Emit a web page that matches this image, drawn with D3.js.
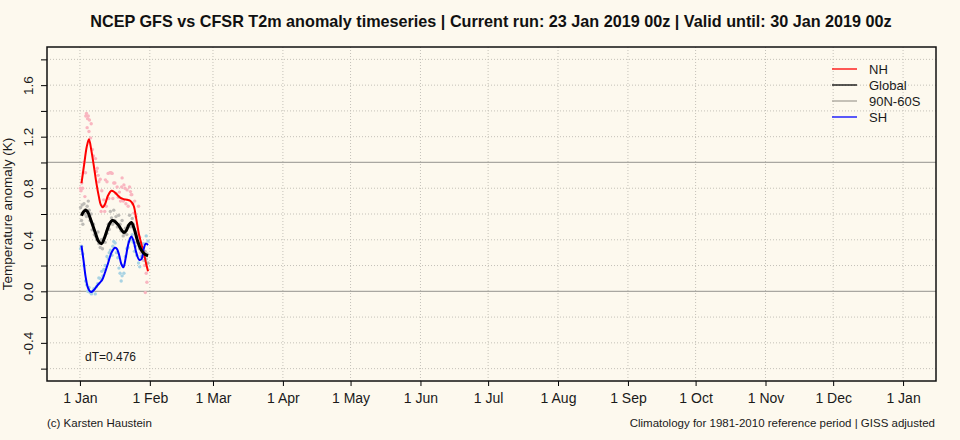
<!DOCTYPE html>
<html>
<head>
<meta charset="utf-8">
<script src="https://cdn.jsdelivr.net/npm/d3@7"></script>
<style>
  body { margin: 0; background: #fdf9ee; }
  text { font-family: 'Liberation Sans', Arial, sans-serif; }
</style>
</head>
<body>
<div id="chart"></div>
<script>
// Day offsets are counted from 1 Jan 2019 00z

// Smoothed curves
let nhLine = [[0.7,0.84],[2,1.0],[3,1.12],[4,1.18],[5,1.1],[6.2,0.97],[7.3,0.84],[8.4,0.735],[9.3,0.67],[10.2,0.653],[11.2,0.68],[12.5,0.745],[14,0.78],[15.3,0.77],[16.5,0.75],[18,0.725],[19.5,0.715],[21,0.71],[22,0.705],[23,0.69],[23.9,0.66],[25,0.56],[26.1,0.45],[27.2,0.37],[28.3,0.30],[29.3,0.22],[30.2,0.155]];
let bandLine = [[0.7,0.60],[1.5,0.625],[2.5,0.64],[3.3,0.63],[4,0.60],[5.5,0.53],[6.9,0.455],[8.2,0.395],[9.6,0.375],[10.8,0.415],[12.1,0.485],[13.3,0.535],[14.3,0.555],[15.6,0.545],[17,0.52],[18.3,0.485],[19.5,0.46],[20.5,0.475],[21.7,0.52],[22.8,0.54],[24,0.495],[25.4,0.405],[26.5,0.35],[27.6,0.315],[29,0.29],[30.2,0.28]];
let globalLine = [[0.7,0.586],[1.5,0.615],[2.5,0.63],[3.3,0.62],[4,0.594],[5.5,0.52],[6.9,0.45],[8.2,0.39],[9.6,0.37],[10.8,0.41],[12.1,0.478],[13.3,0.53],[14.3,0.55],[15.6,0.54],[17,0.516],[18.3,0.48],[19.5,0.457],[20.5,0.47],[21.7,0.515],[22.8,0.534],[24,0.49],[25.4,0.40],[26.5,0.345],[27.6,0.31],[29,0.285],[30.2,0.276]];
let shLine = [[0.7,0.354],[1.6,0.24],[2.5,0.116],[3.5,0.03],[4.4,0.0],[5.1,-0.005],[6.2,0.01],[7.7,0.045],[9,0.07],[9.9,0.09],[11.2,0.15],[12.5,0.22],[14,0.3],[15.5,0.338],[16.4,0.33],[17.4,0.28],[18.4,0.21],[19.3,0.186],[20.3,0.26],[21.5,0.37],[22.8,0.426],[23.8,0.39],[25,0.3],[26.3,0.245],[27.3,0.25],[28.3,0.33],[29.2,0.37],[30.2,0.36]];

// Raw values (dots)
let nhPts = [[0.2,0.80],[0.5,0.78],[0.8,0.84],[1.2,0.80],[1.5,0.92],[1.8,1.0],[2.2,0.735],[2.5,0.92],[2.6,1.36],[2.9,1.38],[3.2,1.27],[3.4,1.34],[3.7,1.36],[4.0,1.24],[4.2,1.33],[4.7,1.19],[5.0,1.30],[5.5,1.10],[6.0,1.05],[6.9,1.03],[7.3,0.93],[7.7,0.955],[8.1,0.90],[8.4,0.85],[9.0,0.87],[9.4,0.62],[9.7,0.78],[10.2,0.66],[10.6,0.71],[11.0,0.62],[11.3,0.865],[11.7,0.66],[12.0,0.85],[12.5,0.915],[12.8,0.72],[13.3,0.92],[13.8,0.92],[14.3,0.915],[14.6,0.72],[15.0,0.84],[15.5,0.84],[16.0,0.76],[16.5,0.81],[17.0,0.73],[17.5,0.77],[18.0,0.70],[18.5,0.81],[18.7,0.88],[19.2,0.70],[19.5,0.826],[20.0,0.80],[20.4,0.68],[20.9,0.787],[21.4,0.66],[22.0,0.81],[22.4,0.774],[22.7,0.75],[23.0,0.75],[23.4,0.68],[23.9,0.607],[24.3,0.70],[24.8,0.58],[25.4,0.45],[26.0,0.66],[26.5,0.42],[27.0,0.30],[27.6,0.27],[28.2,0.24],[28.7,0.20],[29.0,-0.01],[29.4,0.14],[29.7,0.07]];
let globalPts = [[0.3,0.65],[0.7,0.55],[1.0,0.67],[1.3,0.52],[1.8,0.68],[2.2,0.60],[2.9,0.58],[3.2,0.66],[3.7,0.70],[4.1,0.63],[4.5,0.55],[5.0,0.60],[5.4,0.477],[6.0,0.52],[6.4,0.44],[6.9,0.43],[7.5,0.40],[8.0,0.46],[8.4,0.37],[9.0,0.34],[9.5,0.40],[10.0,0.33],[10.6,0.41],[11.2,0.38],[12.0,0.45],[12.6,0.52],[13.0,0.48],[13.5,0.62],[14.0,0.57],[14.5,0.52],[15.0,0.63],[15.5,0.55],[16.0,0.58],[16.6,0.50],[17.2,0.59],[17.8,0.52],[18.2,0.47],[18.7,0.55],[19.2,0.43],[19.7,0.45],[20.2,0.49],[20.8,0.44],[21.4,0.51],[22.0,0.59],[22.5,0.50],[23.2,0.566],[23.7,0.52],[24.1,0.48],[24.6,0.46],[25.2,0.38],[25.8,0.43],[26.4,0.33],[27.0,0.376],[27.6,0.34],[28.0,0.30],[28.3,0.27],[28.9,0.31],[29.4,0.25],[29.8,0.29],[30.2,0.22]];
let shPts = [[0.3,0.33],[0.7,0.35],[1.3,0.29],[1.8,0.20],[2.5,0.08],[3.0,0.05],[3.5,0.0],[4.0,0.03],[4.5,-0.01],[5.1,-0.02],[5.6,0.0],[6.2,0.02],[6.8,-0.02],[7.3,0.035],[7.9,0.06],[8.4,0.104],[9.0,0.10],[9.7,0.155],[10.2,0.12],[10.6,0.17],[11.2,0.20],[12.0,0.27],[12.6,0.25],[13.0,0.30],[13.5,0.32],[14.2,0.28],[14.6,0.35],[15.0,0.387],[15.6,0.375],[16.2,0.30],[16.8,0.26],[17.3,0.18],[17.8,0.14],[18.3,0.08],[18.7,0.12],[19.1,0.20],[19.5,0.14],[20.2,0.27],[20.8,0.33],[21.3,0.34],[21.7,0.387],[22.3,0.41],[22.8,0.40],[23.2,0.44],[23.7,0.38],[24.2,0.31],[24.6,0.35],[25.2,0.28],[26.0,0.22],[26.5,0.19],[27.2,0.27],[27.7,0.30],[28.3,0.37],[28.8,0.24],[29.4,0.43],[30.2,0.39]];

// Axis ticks and labels
let yTicks = [-0.6,-0.4,-0.2,0,0.2,0.4,0.6,0.8,1.0,1.2,1.4,1.6,1.8];
let yLabels = [-0.4,0,0.4,0.8,1.2,1.6];
let refLines = [0, 1.0];
let monthNames = ['Jan','Feb','Mar','Apr','May','Jun','Jul','Aug','Sep','Oct','Nov','Dec','Jan'];
let legendNames = ['NH','Global','90N-60S','SH'];
let legendColors = ['#ff0000','#000000','#a8a39a','#0000ff'];

let titleText = 'NCEP GFS vs CFSR T2m anomaly timeseries | Current run: 23 Jan 2019 00z | Valid until: 30 Jan 2019 00z';
let dT = 'dT=0.476';

let svgWidth = 960;
let svgHeight = 440;
let margin = { top: 47, right: 24, bottom: 59, left: 47 };
let width = svgWidth - margin.left - margin.right;
let height = svgHeight - margin.top - margin.bottom;

let svg = d3.select('#chart')
  .append('svg')
  .attr('width', svgWidth)
  .attr('height', svgHeight)
  .style('background', '#fdf9ee');

let chartGroup = svg.append('g')
  .attr('transform', `translate(${margin.left}, ${margin.top})`);

// Time scale, 1 Jan 2019 .. 1 Jan 2020 plus 4% padding each side
let t0 = Date.UTC(2019, 0, 1);
let dayMs = 864e5;
let toDate = d => new Date(t0 + d * dayMs);
let xScale = d3.scaleUtc()
  .domain([toDate(-14.6), toDate(365 + 14.6)])
  .range([0, width]);
let yScale = d3.scaleLinear()
  .domain([-0.696, 1.896])
  .range([height, 0]);

let monthTicks = d3.utcMonth.range(new Date(t0), new Date(Date.UTC(2020, 0, 2)));

// Grid
chartGroup.selectAll('.hgrid')
  .data(yTicks.filter(v => refLines.indexOf(v) < 0))
  .enter()
  .append('line')
  .attr('x1', 0).attr('x2', width)
  .attr('y1', d => yScale(d)).attr('y2', d => yScale(d))
  .attr('stroke', '#c4c1b8')
  .attr('stroke-width', 1)
  .attr('stroke-dasharray', '1,2');

chartGroup.selectAll('.vgrid')
  .data(monthTicks)
  .enter()
  .append('line')
  .attr('x1', d => xScale(d)).attr('x2', d => xScale(d))
  .attr('y1', 0).attr('y2', height)
  .attr('stroke', '#c4c1b8')
  .attr('stroke-width', 1)
  .attr('stroke-dasharray', '1,2');

chartGroup.selectAll('.ref')
  .data(refLines)
  .enter()
  .append('line')
  .attr('x1', 0).attr('x2', width)
  .attr('y1', d => yScale(d)).attr('y2', d => yScale(d))
  .attr('stroke', '#a9a7a1')
  .attr('stroke-width', 1.2);

// Dots
let dotSets = [[globalPts, '#bdbbb6'], [nhPts, '#f9b6c0'], [shPts, '#a9d3e3']];
dotSets.forEach(s => {
  chartGroup.append('g')
    .selectAll('circle')
    .data(s[0])
    .enter()
    .append('circle')
    .attr('cx', d => xScale(toDate(d[0])))
    .attr('cy', d => yScale(d[1]))
    .attr('r', 1.7)
    .attr('fill', s[1]);
});

// Smoothed lines
let line = d3.line()
  .x(d => xScale(toDate(d[0])))
  .y(d => yScale(d[1]))
  .curve(d3.curveCatmullRom);

let lineSets = [[nhLine, '#ff0000', 2], [bandLine, '#a8a39a', 1.5], [shLine, '#0000ff', 2], [globalLine, '#000000', 3]];
lineSets.forEach(s => {
  chartGroup.append('path')
    .datum(s[0])
    .attr('d', line)
    .attr('fill', 'none')
    .attr('stroke', s[1])
    .attr('stroke-width', s[2])
    .attr('stroke-linejoin', 'round');
});

// Axes
let yAxis = d3.axisLeft(yScale)
  .tickValues(yTicks)
  .tickSize(6)
  .tickFormat(v => yLabels.some(l => Math.abs(l - v) < 1e-9) ? v.toFixed(1) : '');
let yG = chartGroup.append('g').call(yAxis);
yG.select('.domain').remove();
yG.selectAll('text')
  .attr('font-size', '13.5px')
  .attr('fill', '#1a1a1a')
  .attr('text-anchor', 'middle')
  .attr('dy', '0')
  .attr('x', 0)
  .attr('y', 0)
  .attr('transform', 'rotate(-90) translate(0, -14)');

let xAxis = d3.axisBottom(xScale)
  .tickValues(monthTicks)
  .tickSize(5)
  .tickPadding(7)
  .tickFormat((d, i) => '1 ' + monthNames[i]);
let xG = chartGroup.append('g')
  .attr('transform', `translate(0, ${height})`)
  .call(xAxis);
xG.select('.domain').remove();
xG.selectAll('text')
  .attr('font-size', '14px')
  .attr('fill', '#1a1a1a');

// Box
chartGroup.append('rect')
  .attr('x', 0).attr('y', 0)
  .attr('width', width).attr('height', height)
  .attr('fill', 'none')
  .attr('stroke', '#111')
  .attr('stroke-width', 1.5);

// Legend
let legend = chartGroup.append('g')
  .attr('transform', `translate(${785}, ${22})`);
legendNames.forEach((name, i) => {
  legend.append('line')
    .attr('x1', 0).attr('x2', 25)
    .attr('y1', i * 16).attr('y2', i * 16)
    .attr('stroke', legendColors[i])
    .attr('stroke-width', 1.3);
  legend.append('text')
    .attr('x', 37)
    .attr('y', i * 16 + 4.5)
    .attr('font-size', '13px')
    .attr('fill', '#1a1a1a')
    .text(name);
});

// dT label
chartGroup.append('text')
  .attr('x', 38)
  .attr('y', 314)
  .attr('font-size', '12px')
  .attr('fill', '#1a1a1a')
  .text(dT);

// Title and axis title
svg.append('text')
  .attr('x', 491)
  .attr('y', 27)
  .attr('text-anchor', 'middle')
  .attr('font-size', '16.2px')
  .attr('font-weight', 'bold')
  .attr('fill', '#111')
  .text(titleText);

svg.append('text')
  .attr('transform', `translate(12, ${margin.top + height / 2}) rotate(-90)`)
  .attr('text-anchor', 'middle')
  .attr('font-size', '13.5px')
  .attr('fill', '#1a1a1a')
  .text('Temperature anomaly (K)');

// Footer
svg.append('text')
  .attr('x', 47)
  .attr('y', 427)
  .attr('font-size', '11.5px')
  .attr('fill', '#1a1a1a')
  .text('(c) Karsten Haustein');

svg.append('text')
  .attr('x', 935)
  .attr('y', 427)
  .attr('text-anchor', 'end')
  .attr('font-size', '11.5px')
  .attr('fill', '#1a1a1a')
  .text('Climatology for 1981-2010 reference period | GISS adjusted');
</script>
</body>
</html>
